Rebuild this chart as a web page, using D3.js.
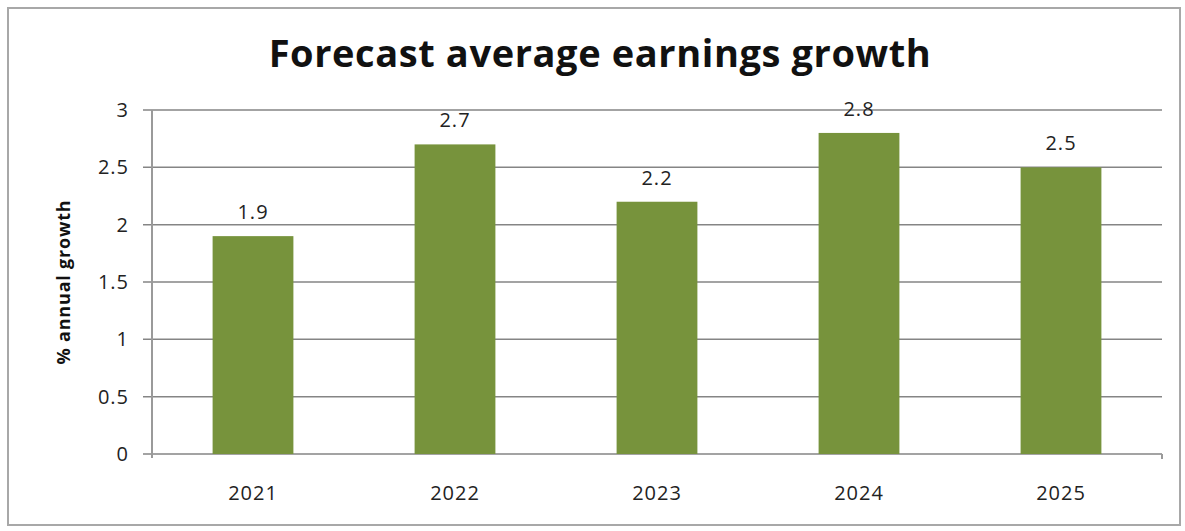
<!DOCTYPE html>
<html>
<head>
<meta charset="utf-8">
<script src="https://cdn.jsdelivr.net/npm/d3@7"></script>
<style>
  body { margin: 0; background: #fff; }
  text { font-family: "Open Sans", sans-serif; }
</style>
</head>
<body>
<div id="chart"></div>
<script>
// chart data
const years = ["2021", "2022", "2023", "2024", "2025"];
const growth = [1.9, 2.7, 2.2, 2.8, 2.5];
const yTicks = [0, 0.5, 1, 1.5, 2, 2.5, 3];

const width = 1185;
const height = 531;
const margin = { top: 110, right: 23, bottom: 77, left: 152 };

const svg = d3.select("#chart")
    .append("svg")
    .attr("width", width)
    .attr("height", height);

// outer frame
svg.append("rect")
    .attr("x", 8)
    .attr("y", 8)
    .attr("width", 1172)
    .attr("height", 517)
    .attr("fill", "white")
    .attr("stroke", "#a8a8a8")
    .attr("stroke-width", 2);

const xScale = d3.scaleBand()
    .domain(years)
    .range([margin.left, width - margin.right])
    .paddingInner(0.6)
    .paddingOuter(0.3);

const yScale = d3.scaleLinear()
    .domain([0, 3])
    .range([height - margin.bottom, margin.top]);

// gridlines
svg.append("g")
    .selectAll("line")
    .data(yTicks)
    .enter()
    .append("line")
    .attr("x1", margin.left - 9)
    .attr("x2", width - margin.right)
    .attr("y1", d => yScale(d))
    .attr("y2", d => yScale(d))
    .attr("stroke", "#858585")
    .attr("stroke-width", 1.5);

// y axis line
svg.append("line")
    .attr("x1", margin.left)
    .attr("x2", margin.left)
    .attr("y1", yScale(3))
    .attr("y2", yScale(0) + 4)
    .attr("stroke", "#9a9a9a")
    .attr("stroke-width", 2);

// right end tick of the x axis
svg.append("line")
    .attr("x1", width - margin.right)
    .attr("x2", width - margin.right)
    .attr("y1", yScale(0))
    .attr("y2", yScale(0) + 5)
    .attr("stroke", "#9a9a9a")
    .attr("stroke-width", 2);

const numStyle = sel => sel
    .style("font-size", "20px")
    .style("letter-spacing", "1px")
    .style("fill", "#222");

// y tick labels
svg.append("g")
    .selectAll("text")
    .data(yTicks)
    .enter()
    .append("text")
    .attr("x", margin.left - 23)
    .attr("y", d => yScale(d))
    .attr("dy", "0.35em")
    .attr("text-anchor", "end")
    .call(numStyle)
    .text(d => d);

// bars
svg.append("g")
    .selectAll("rect")
    .data(years)
    .enter()
    .append("rect")
    .attr("x", d => xScale(d))
    .attr("y", (d, i) => yScale(growth[i]))
    .attr("width", xScale.bandwidth())
    .attr("height", (d, i) => yScale(0) - yScale(growth[i]))
    .attr("fill", "#77933c");

// value labels
svg.append("g")
    .selectAll("text")
    .data(years)
    .enter()
    .append("text")
    .attr("x", d => xScale(d) + xScale.bandwidth() / 2)
    .attr("y", (d, i) => yScale(growth[i]) - 17)
    .attr("text-anchor", "middle")
    .call(numStyle)
    .text((d, i) => growth[i]);

// x labels
svg.append("g")
    .selectAll("text")
    .data(years)
    .enter()
    .append("text")
    .attr("x", d => xScale(d) + xScale.bandwidth() / 2)
    .attr("y", yScale(0) + 46)
    .attr("text-anchor", "middle")
    .call(numStyle)
    .text(d => d);

// title
svg.append("text")
    .attr("x", 600)
    .attr("y", 67)
    .attr("text-anchor", "middle")
    .style("font-size", "38px")
    .style("font-weight", "bold")
    .style("letter-spacing", "0.6px")
    .style("fill", "#111")
    .text("Forecast average earnings growth");

// y axis title
svg.append("text")
    .attr("transform", `translate(70, ${(yScale(0) + yScale(3)) / 2}) rotate(-90)`)
    .attr("text-anchor", "middle")
    .style("font-size", "18px")
    .style("font-weight", "bold")
    .style("letter-spacing", "0.8px")
    .style("fill", "#111")
    .text("% annual growth");
</script>
</body>
</html>
